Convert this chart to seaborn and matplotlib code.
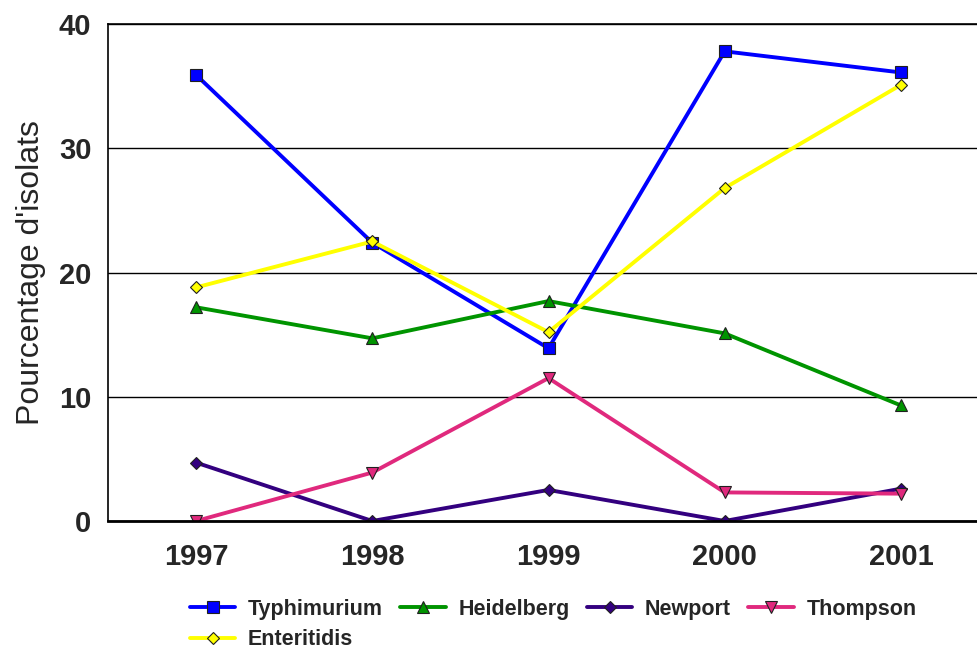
import pandas as pd
import matplotlib.pyplot as plt
import seaborn as sns

# Values (percentage of isolates per year)
years = ["1997", "1998", "1999", "2000", "2001"]
serovars = ["Typhimurium", "Heidelberg", "Newport", "Thompson", "Enteritidis"]
typhimurium = [35.9, 22.4, 13.9, 37.8, 36.1]
heidelberg = [17.2, 14.7, 17.7, 15.1, 9.3]
newport = [4.7, 0.0, 2.5, 0.0, 2.6]
thompson = [0.0, 3.9, 11.5, 2.3, 2.2]
enteritidis = [18.8, 22.5, 15.2, 26.8, 35.1]

rows = []
for name, vals in zip(serovars, [typhimurium, heidelberg, newport, thompson, enteritidis]):
    for i, v in enumerate(vals):
        rows.append({"Year": i, "Serovar": name, "Pct": v})
data = pd.DataFrame(rows)

palette = {
    "Typhimurium": "#0000FF",
    "Heidelberg": "#009400",
    "Newport": "#33007F",
    "Thompson": "#E0297D",
    "Enteritidis": "#FFFF00",
}
markers = {
    "Typhimurium": "s",
    "Heidelberg": "^",
    "Newport": "D",
    "Thompson": "v",
    "Enteritidis": "D",
}

sns.set_style("white")
plt.rcParams["font.family"] = ["Liberation Sans", "DejaVu Sans"]

f = plt.figure(figsize=(9.78, 6.5), dpi=100)
ax = f.add_axes([108 / 978, 1 - 521 / 650, 881 / 978, 497 / 650])

sns.lineplot(
    data=data,
    x="Year",
    y="Pct",
    hue="Serovar",
    style="Serovar",
    hue_order=serovars,
    style_order=serovars,
    palette=palette,
    markers=markers,
    dashes=False,
    linewidth=2.8,
    markersize=8,
    markeredgecolor="#202020",
    markeredgewidth=0.8,
    ax=ax,
)

# smaller diamonds like the original
for line in ax.get_lines():
    if line.get_marker() == "D":
        line.set_markersize(6.5)

ax.set_xlim(-0.5, 4.5)
ax.set_ylim(0, 40)
ax.set_xticks(range(len(years)))
ax.set_xticklabels(years, fontsize=21, fontweight="bold")
ax.set_yticks([0, 10, 20, 30, 40])
ax.set_yticklabels(["0", "10", "20", "30", "40"], fontsize=21, fontweight="bold")
ax.tick_params(axis="x", length=0, pad=16)
ax.tick_params(axis="y", length=0, pad=12)
ax.set_xlabel("")
ax.set_ylabel("Pourcentage d'isolats", fontsize=23, labelpad=9)

ax.yaxis.grid(True, color="black", linewidth=1)
ax.set_axisbelow(True)
for side in ["left", "top"]:
    ax.spines[side].set_color("black")
    ax.spines[side].set_linewidth(1.2)
ax.spines["bottom"].set_color("black")
ax.spines["bottom"].set_linewidth(2)
ax.spines["right"].set_visible(False)

handles, labels = ax.get_legend_handles_labels()
ax.legend_.remove()
# legend fills column-wise: put Enteritidis under Typhimurium
order = [0, 4, 1, 2, 3]
f.legend(
    [handles[i] for i in order],
    [labels[i] for i in order],
    loc="upper left",
    bbox_to_anchor=(190 / 978, 1 - 599 / 650),
    ncol=4,
    frameon=False,
    prop={"size": 15.5, "weight": "bold"},
    handlelength=2.1,
    handletextpad=0.6,
    columnspacing=0.8,
    labelspacing=0.42,
    borderaxespad=0,
    borderpad=0,
)

f.savefig("out.png")
